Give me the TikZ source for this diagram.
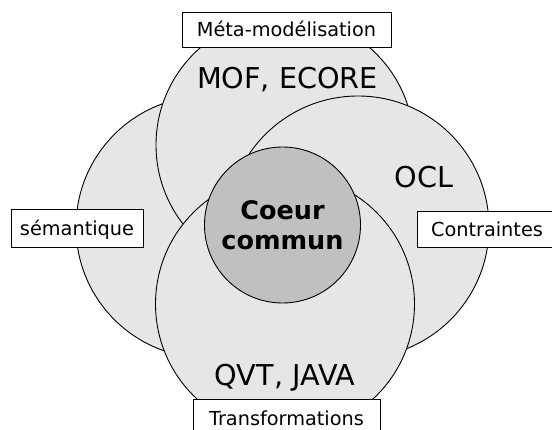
\documentclass[tikz,border=0pt]{standalone}
\usepackage{fontspec}
\setmainfont{DejaVu Sans}
\definecolor{areagray}{HTML}{E6E6E6}
\definecolor{coregray}{HTML}{C0C0C0}
\tikzset{
  area/.style={circle, draw=black, line width=0.9pt, fill=areagray, inner sep=0pt},
  core/.style={circle, draw=black, line width=0.9pt, fill=coregray, minimum size=156pt,
    inner sep=0pt, align=center, font=\fontsize{25.5}{30}\selectfont\bfseries},
  tag/.style={draw=black, line width=0.8pt, fill=white, text height=14pt, text depth=0pt,
    inner sep=0pt, font=\fontsize{19.3}{23}\selectfont},
  big/.style={font=\fontsize{28.7}{34}\selectfont, anchor=base, inner sep=0pt}
}
\begin{document}
\begin{tikzpicture}[x=1pt, y=-1pt]
  \useasboundingbox (0,0) rectangle (552,429);
  \clip (0,0) rectangle (552,429);
  % circles
  \node[area, minimum size=262pt] (sem) at (207,227) {};
  \node[area, minimum size=258pt] (meta) at (285,145) {};
  \node[area, minimum size=262pt] (ocl) at (358,227) {};
  \node[area, minimum size=259pt] (qvt) at (285,304) {};
  \node[core] (coeur) at (282.5,225) {Coeur\\commun};
  % texts in circles
  \node[big] (mof) at (287.5,88) {MOF, ECORE};
  \node[big] (ocltext) at (424,187) {OCL};
  \node[big] (qvttext) at (285,385) {QVT, JAVA};
  % label boxes
  \node[tag, minimum width=209pt, minimum height=35pt] (tmeta) at (286.5,29.5) {Méta-modélisation};
  \node[tag, minimum width=132pt, minimum height=38pt] (tsem) at (77,228) {sémantique};
  \node[tag, minimum width=140pt, minimum height=36pt] (tcon) at (487,229) {Contraintes};
  \node[tag, minimum width=187pt, minimum height=38pt] (ttrans) at (286.5,418) {Transformations};
\end{tikzpicture}
\end{document}
